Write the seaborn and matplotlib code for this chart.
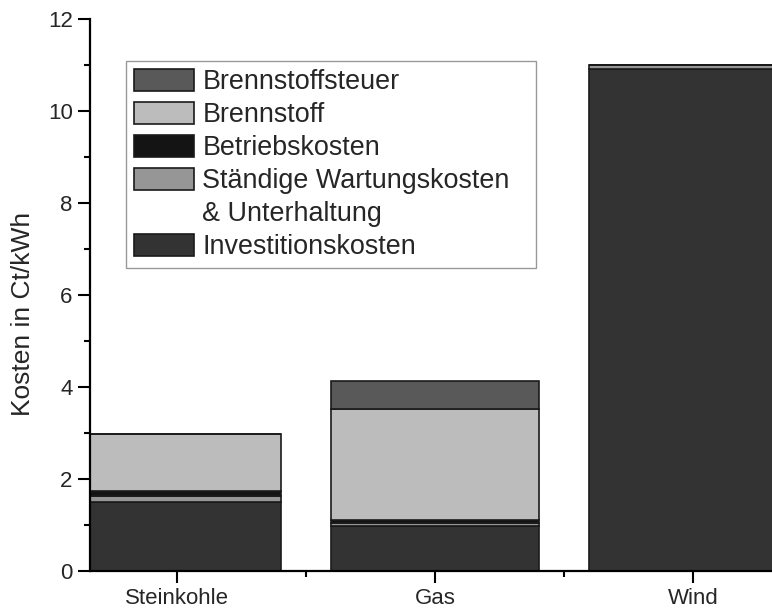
import numpy as np
import pandas as pd
import matplotlib
matplotlib.use("Agg")
import matplotlib.pyplot as plt
from matplotlib.patches import Patch
from matplotlib.ticker import MultipleLocator, FixedLocator
import seaborn as sns

# Cost components per power source (ct/kWh), stacked bottom to top
sources = ["Steinkohle", "Gas", "Wind"]
investition = [1.50, 0.97, 10.91]
wartung = [0.12, 0.08, 0.10]
betrieb = [0.11, 0.06, 0.00]
brennstoff = [1.25, 2.42, 0.00]
steuer = [0.00, 0.60, 0.00]

components = [
    ("Investitionskosten", investition, "#333333"),
    ("Ständige Wartungskosten", wartung, "#969696"),
    ("Betriebskosten", betrieb, "#141414"),
    ("Brennstoff", brennstoff, "#bcbcbc"),
    ("Brennstoffsteuer", steuer, "#595959"),
]

sns.set_theme(style="ticks")
plt.rcParams["font.family"] = ["Liberation Sans", "DejaVu Sans"]

fig = plt.figure(figsize=(7.72, 6.08), dpi=100)
ax = fig.add_axes([90 / 772, 1 - 571 / 608, 1 - 90 / 772, 552 / 608])

bottom = np.zeros(len(sources))
for name, vals, color in components:
    df = pd.DataFrame({"Quelle": sources, "Kosten": vals})
    sns.barplot(data=df, x="Quelle", y="Kosten", bottom=bottom.copy(),
                color=color, saturation=1, width=0.806, label=name,
                edgecolor="#1a1a1a", linewidth=1.2, ax=ax, errorbar=None)
    bottom += np.array(vals)

ax.set_xlim(-0.337, 2.306)
ax.set_ylim(0, 12)
ax.yaxis.set_major_locator(MultipleLocator(2))
ax.yaxis.set_minor_locator(MultipleLocator(1))
ax.xaxis.set_minor_locator(FixedLocator([0.5, 1.5]))
ax.set_xlabel("")
ax.set_ylabel("Kosten in Ct/kWh", fontsize=19)
ax.yaxis.set_label_coords(-0.08, 0.466)
ax.tick_params(axis="both", which="major", length=8.5, width=1.5,
               labelsize=16, color="black", direction="out", pad=4)
ax.tick_params(axis="both", which="minor", length=4, width=1.5,
               color="black", direction="out")
for side in ["top", "right"]:
    ax.spines[side].set_visible(False)
for side in ["left", "bottom"]:
    ax.spines[side].set_linewidth(1.6)
    ax.spines[side].set_color("black")
ax.set_facecolor("white")

# Legend in reverse stacking order; the maintenance label wraps onto a second row
handles, labels = ax.get_legend_handles_labels()
handles, labels = handles[::-1], labels[::-1]
idx = labels.index("Ständige Wartungskosten")
handles.insert(idx + 1, Patch(facecolor="none", edgecolor="none"))
labels.insert(idx + 1, "& Unterhaltung")
leg = ax.legend(handles, labels, loc="upper left",
                bbox_to_anchor=(0.0528, 0.5, 0.601, 0.424), mode="expand",
                borderaxespad=0, fontsize=19.4, frameon=True, fancybox=False,
                handlelength=2.23, handleheight=0.86, handletextpad=0.3,
                borderpad=0.3, labelspacing=0.255)
leg.get_frame().set_edgecolor("#808080")
leg.get_frame().set_linewidth(1.0)

fig.savefig("out.png", dpi=100, facecolor="white")
